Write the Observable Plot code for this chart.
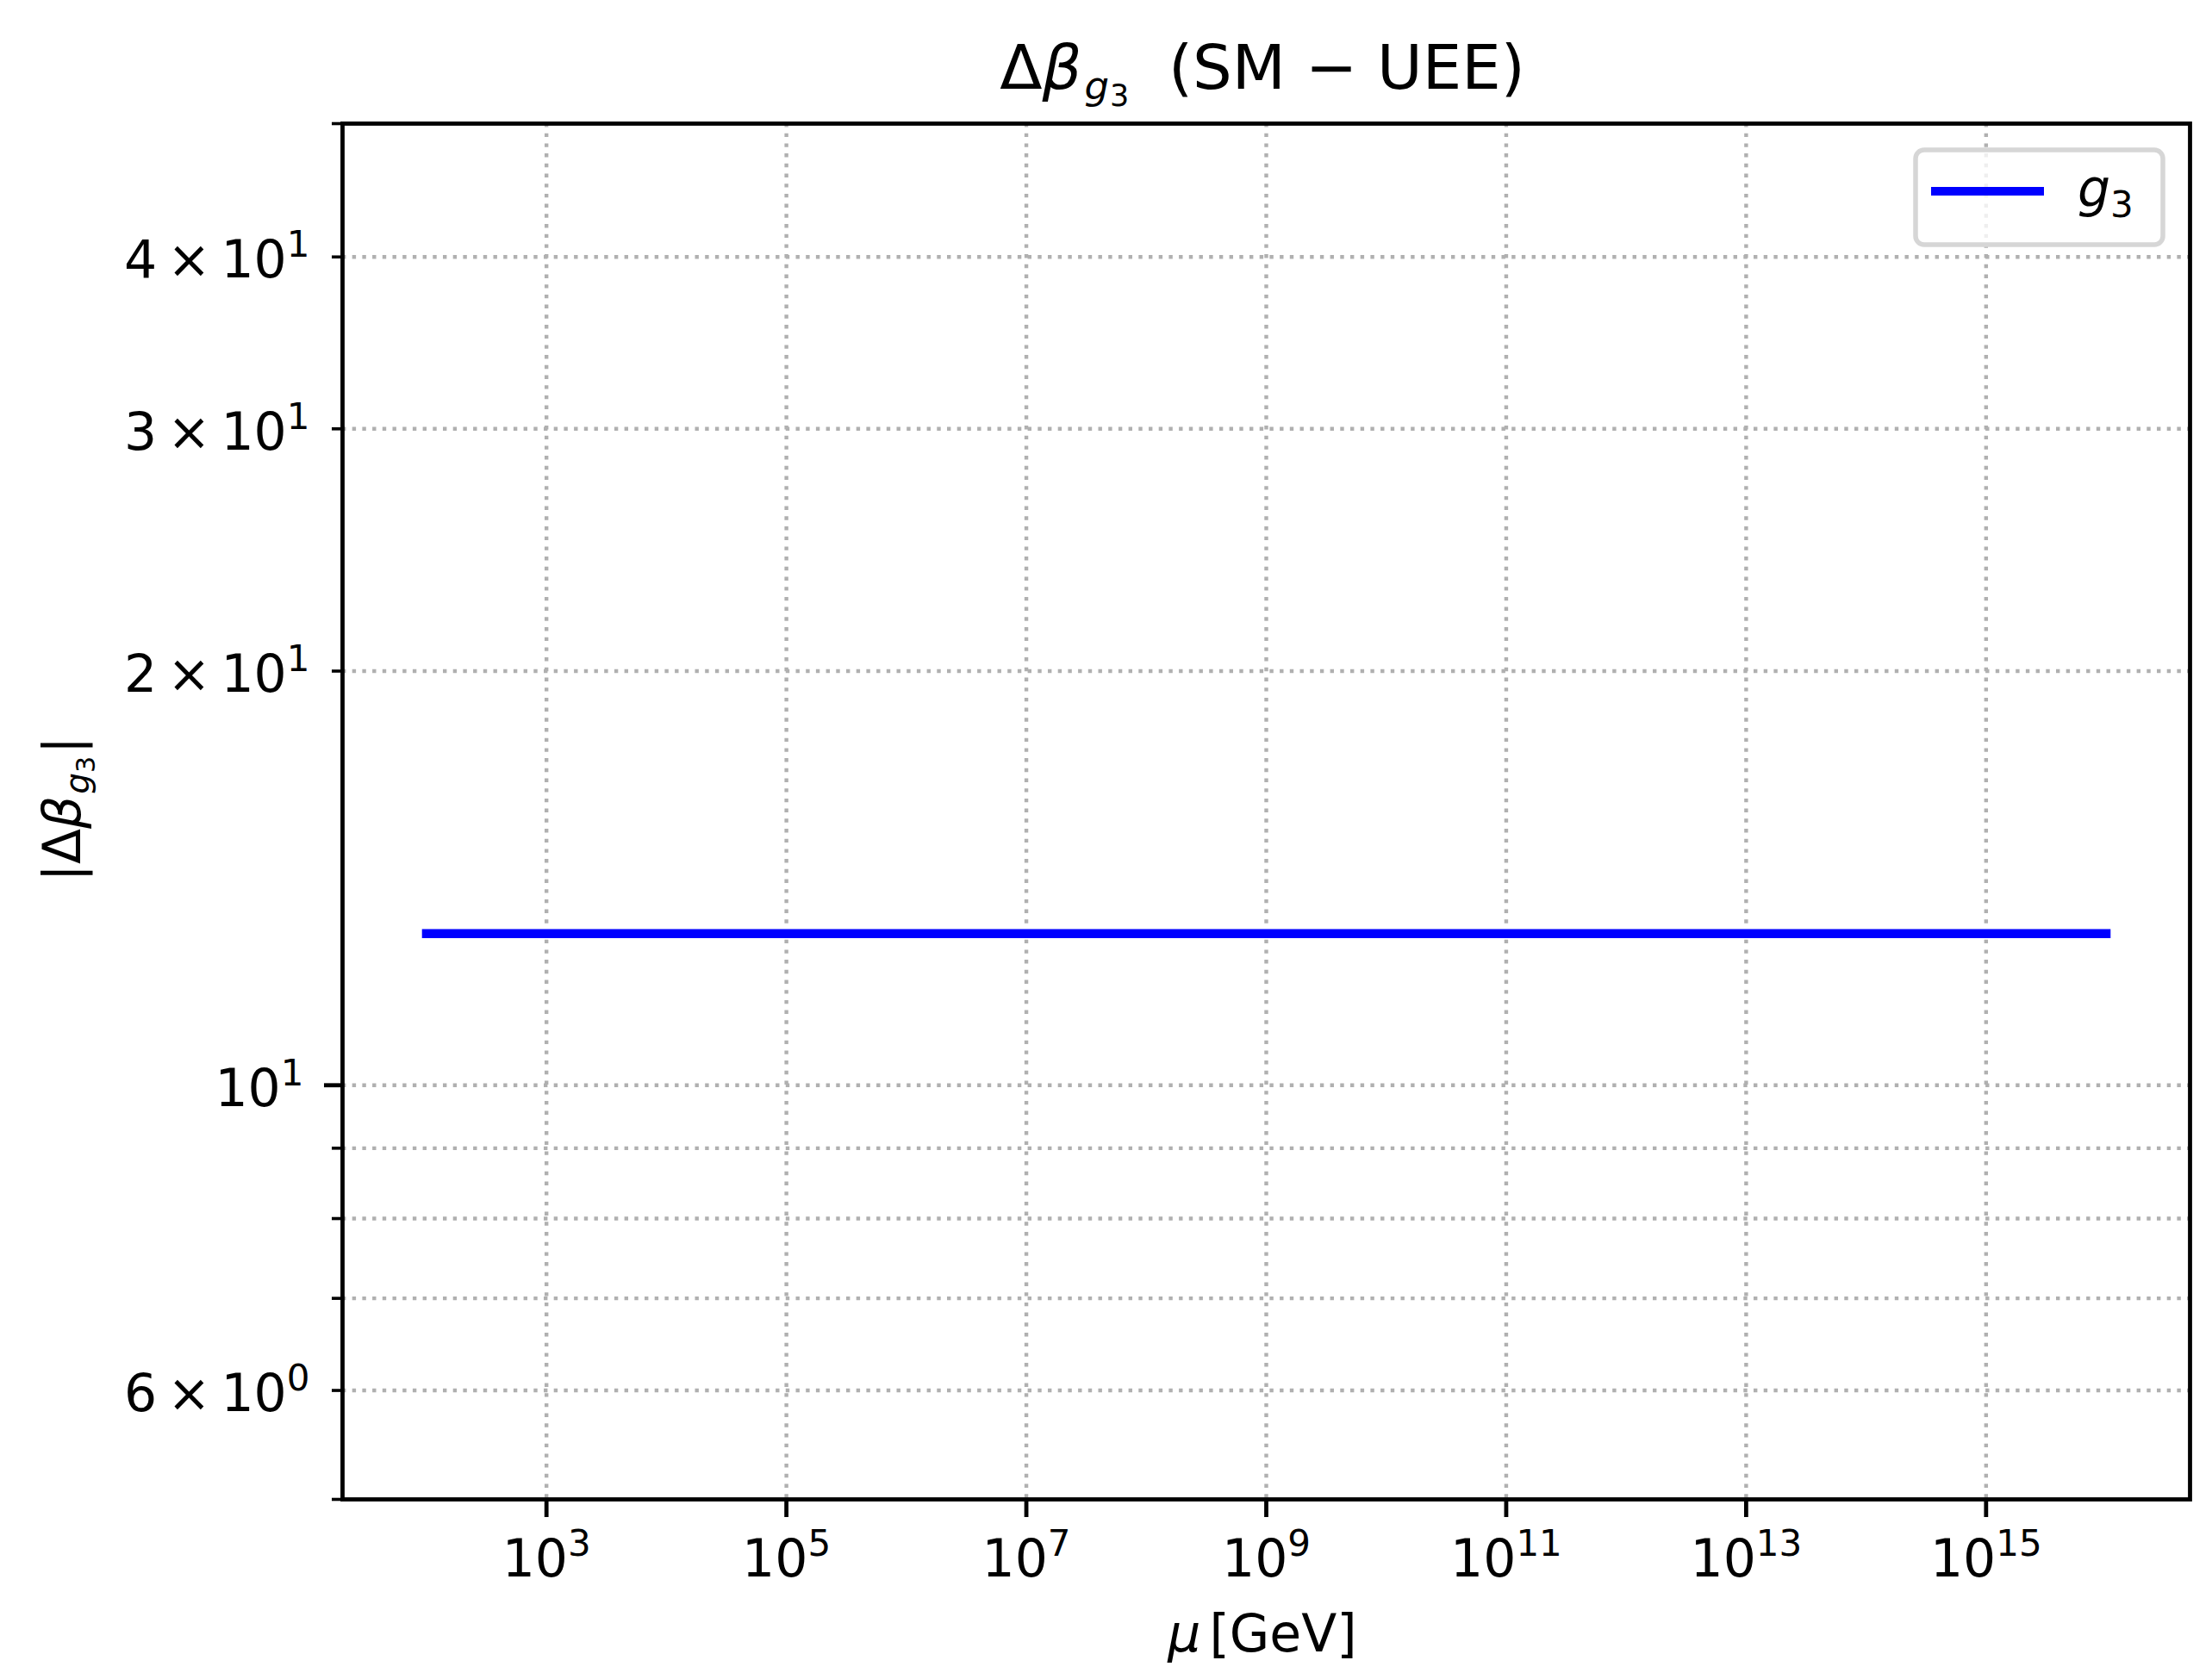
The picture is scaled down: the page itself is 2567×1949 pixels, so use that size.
<!DOCTYPE html>
<html><head><meta charset="utf-8">
<script src="https://cdn.jsdelivr.net/npm/d3@7"></script>
<script src="https://cdn.jsdelivr.net/npm/@observablehq/plot@0.6"></script>
<style>html,body{margin:0;padding:0;background:#fff;} svg{display:block;}</style>
</head><body><div id="chart"></div>
<script>
// ---- data ----
const muGeV = [1e2, 1e16];
const deltaBetaG3 = [12.89, 12.89];
const seriesLabel = "g3";
const xTickValues = [1e3, 1e5, 1e7, 1e9, 1e11, 1e13, 1e15];
const xTickLabels = ["10^3", "10^5", "10^7", "10^9", "10^11", "10^13", "10^15"];
const yMajorTicks = [10];
const yMajorLabels = ["10^1"];
const yMinorTicks = [5, 6, 7, 8, 9, 20, 30, 40, 50];
const yMinorLabels = ["", "6×10^0", "", "", "", "2×10^1", "3×10^1", "4×10^1", ""];
const yGridValues = [6, 7, 8, 9, 10, 20, 30, 40];
const xDomain = [Math.pow(10, 1.3), Math.pow(10, 16.7)];
const yDomain = [5, 50];

const table = muGeV.map((m, i) => ({mu: m, value: deltaBetaG3[i]}));

const gridStyle = {stroke: "#b0b0b0", strokeOpacity: 1, strokeWidth: 4.4, strokeDasharray: "4.4,7.3"};

const chart = Plot.plot({
  width: 2567, height: 1949,
  marginLeft: 397, marginRight: 26, marginTop: 143, marginBottom: 209,
  style: {fontFamily: "DejaVu Sans", fontSize: "60px", color: "black", background: "white"},
  x: {type: "log", domain: xDomain},
  y: {type: "log", domain: yDomain},
  marks: [
    Plot.gridX(xTickValues, gridStyle),
    Plot.gridY(yGridValues, gridStyle),
    Plot.line(table, {x: "mu", y: "value", stroke: "#0000ff", strokeWidth: 10.5, strokeLinecap: "square"}),
    Plot.frame({stroke: "black", strokeWidth: 4.8}),
    Plot.axisX(xTickValues, {tickSize: 21, tickPadding: 26, strokeWidth: 4.8, fontSize: 60, label: null,
      tickFormat: d => xTickLabels[xTickValues.indexOf(d)]}),
    Plot.axisY(yMajorTicks, {tickSize: 21, tickPadding: 24, strokeWidth: 4.8, fontSize: 60, label: null,
      tickFormat: d => yMajorLabels[yMajorTicks.indexOf(d)]}),
    Plot.axisY(yMinorTicks, {tickSize: 12, tickPadding: 26, strokeWidth: 3.6, fontSize: 60, label: null,
      tickFormat: d => yMinorLabels[yMinorTicks.indexOf(d)]})
  ]
});
document.getElementById("chart").appendChild(chart);

// ---- render "a×10^b" as real text with superscripts ----
const NS = "http://www.w3.org/2000/svg";
function mathify(el, supSize, supShift, gap, baseDy) {
  const s = el.textContent;
  if (!s.includes("^")) return;
  const [base, sup] = s.split("^");
  while (el.firstChild) el.removeChild(el.firstChild);
  const add = (txt, attrs) => {
    const t = document.createElementNS(NS, "tspan");
    for (const k in attrs) t.setAttribute(k, attrs[k]);
    t.textContent = txt;
    el.appendChild(t);
    return t;
  };
  base.split("×").forEach((p, i) => {
    if (i > 0) { add("×", {dx: gap}); add(p, {dx: gap}); }
    else add(p, {dy: baseDy});
  });
  add(sup, {"font-size": supSize, dy: -supShift});
}
const svg = d3.select(chart);
svg.selectAll("g[aria-label='x-axis tick label'] text").each(function() { mathify(this, 42, 24, 12, 0); });
svg.selectAll("g[aria-label='y-axis tick label'] text").each(function() { mathify(this, 42, 24, 12, 5); });

// ---- title ----
const title = svg.append("text").attr("x", 1465).attr("y", 103).attr("text-anchor", "middle")
  .attr("font-size", 72).style("white-space", "pre").attr("fill", "black");
title.append("tspan").text("Δ");
title.append("tspan").attr("font-style", "italic").text("β");
title.append("tspan").attr("font-style", "italic").attr("font-size", 45).attr("dy", 12).attr("dx", 3).text("g");
title.append("tspan").attr("font-size", 35).attr("dy", 8).attr("dx", 1).text("3");
title.append("tspan").attr("dy", -20).text("  (SM − UEE)");

// ---- x label ----
const xl = svg.append("text").attr("x", 1465).attr("y", 1917).attr("text-anchor", "middle")
  .attr("font-size", 60).attr("fill", "black");
xl.append("tspan").attr("font-style", "italic").text("μ");
xl.append("tspan").attr("dx", 10).text("[GeV]");

// ---- y label ----
const yl = svg.append("text").attr("transform", "translate(93,939) rotate(-90)").attr("text-anchor", "middle")
  .attr("font-size", 60).attr("fill", "black");
yl.append("tspan").text("|Δ");
yl.append("tspan").attr("font-style", "italic").text("β");
yl.append("tspan").attr("font-style", "italic").attr("font-size", 39).attr("dy", 10).attr("dx", 2).text("g");
yl.append("tspan").attr("font-size", 30).attr("dy", 7).text("3");
yl.append("tspan").attr("dy", -17).attr("dx", 3).text("|");

// ---- legend ----
const lg = svg.append("g");
lg.append("rect").attr("x", 2223).attr("y", 174).attr("width", 287).attr("height", 110).attr("rx", 10)
  .attr("fill", "white").attr("fill-opacity", 0.8).attr("stroke", "#d6d6d6").attr("stroke-width", 5.5);
lg.append("line").attr("x1", 2241).attr("x2", 2372).attr("y1", 222).attr("y2", 222)
  .attr("stroke", "#0000ff").attr("stroke-width", 10);
const lt = lg.append("text").attr("x", 2411).attr("y", 240).attr("text-anchor", "start")
  .attr("font-size", 60).attr("fill", "black");
lt.append("tspan").attr("font-style", "italic").text(seriesLabel[0]);
lt.append("tspan").attr("font-size", 42).attr("dy", 12).text(seriesLabel.slice(1));
</script>
</body></html>
